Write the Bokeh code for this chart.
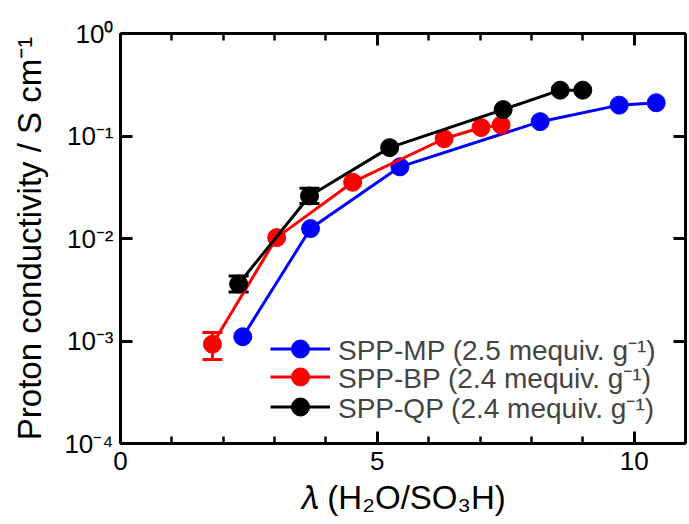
from bokeh.plotting import figure
from bokeh.models import (LinearAxis, LogAxis, SingleIntervalTicker, FixedTicker,
                          CustomJSTickFormatter, Whisker, ColumnDataSource, Legend,
                          LegendItem, Range1d, TeeHead)
from bokeh.embed import file_html
from bokeh.resources import INLINE

# ---- data ----
mp_x = [2.38, 3.70, 5.44, 8.17, 9.71, 10.43]
mp_y = [0.0011, 0.0125, 0.050, 0.138, 0.20, 0.211]
bp_x = [1.79, 3.04, 4.52, 6.30, 7.02, 7.41]
bp_y = [0.00093, 0.0102, 0.0354, 0.094, 0.121, 0.128]
qp_x = [2.30, 3.68, 5.24, 7.45, 8.56, 9.00]
qp_y = [0.0036, 0.026, 0.077, 0.181, 0.28, 0.28]

bp_err_x = [1.79]
bp_err_lo = [0.00066]
bp_err_hi = [0.00121]
qp_err_x = [2.30, 3.68]
qp_err_lo = [0.0030, 0.022]
qp_err_hi = [0.0043, 0.031]

labels = ["SPP-MP (2.5 mequiv. g\u207b\u00b9)",
          "SPP-BP (2.4 mequiv. g\u207b\u00b9)",
          "SPP-QP (2.4 mequiv. g\u207b\u00b9)"]
colors = ["#0000FF", "#FF0000", "#000000"]
y_ticks = [1e-4, 1e-3, 1e-2, 1e-1, 1.0]
x_label = "\U0001D706 (H\u2082O/SO\u2083H)"
y_label = "Proton conductivity / S cm\u207b\u00b9"

FONT = "Liberation Sans"

p = figure(width=689, height=524, x_range=Range1d(0, 11), y_range=Range1d(1e-4, 1.0),
           y_axis_type="log", output_backend="svg", toolbar_location=None,
           min_border_left=120, min_border_right=4, min_border_top=33, min_border_bottom=81)
p.outline_line_color = None
p.grid.visible = False
p.background_fill_color = "white"
p.border_fill_color = "white"

bottom_ax = p.below[0]
left_ax = p.left[0]

top_ax = LinearAxis()
right_ax = LogAxis()
p.add_layout(top_ax, "above")
p.add_layout(right_ax, "right")

yfmt = CustomJSTickFormatter(code="""
const e = Math.round(Math.log10(tick));
const sup = {"-":"\u207b","0":"\u2070","1":"\u00b9","2":"\u00b2","3":"\u00b3","4":"\u2074"};
return "10" + String(e).split("").map(c => sup[c]).join("");
""")
blank = CustomJSTickFormatter(code="return '';")

for ax in [bottom_ax, top_ax]:
    ax.ticker = SingleIntervalTicker(interval=5, num_minor_ticks=5)
for ax in [left_ax, right_ax]:
    ax.ticker = FixedTicker(ticks=y_ticks, minor_ticks=[])

for ax in [bottom_ax, top_ax, left_ax, right_ax]:
    ax.axis_line_width = 3
    ax.axis_line_color = "black"
    ax.major_tick_line_width = 3
    ax.minor_tick_line_width = 2.5
    ax.major_tick_in = 12
    ax.major_tick_out = 0
    ax.minor_tick_in = 7
    ax.minor_tick_out = 0
    ax.major_label_text_font = FONT
    ax.major_label_text_font_size = "26px"
    ax.major_label_text_color = "black"
    ax.axis_label_text_font = FONT
    ax.axis_label_text_font_style = "normal"
    ax.axis_label_text_color = "black"

for ax in [left_ax, right_ax]:
    ax.minor_tick_line_color = None

for ax in [top_ax, right_ax]:
    ax.formatter = blank
    ax.major_label_text_font_size = "0px"
    ax.major_label_standoff = 0

left_ax.formatter = yfmt
left_ax.major_label_standoff = 7
left_ax.axis_label = y_label
left_ax.axis_label_text_font_size = "33px"
left_ax.axis_label_standoff = 13

bottom_ax.major_label_standoff = 8
bottom_ax.axis_label = x_label
bottom_ax.axis_label_text_font_size = "33px"
bottom_ax.axis_label_standoff = 6

# ---- series ----
renderers = []
for xs, ys, c in [(mp_x, mp_y, colors[0]), (bp_x, bp_y, colors[1]), (qp_x, qp_y, colors[2])]:
    src = ColumnDataSource(dict(x=xs, y=ys))
    ln = p.line("x", "y", source=src, line_color=c, line_width=3)
    sc = p.scatter("x", "y", source=src, size=18, fill_color=c, line_color=c)
    renderers.append((ln, sc))

for ex, lo, hi, c in [(bp_err_x, bp_err_lo, bp_err_hi, colors[1]),
                      (qp_err_x, qp_err_lo, qp_err_hi, colors[2])]:
    esrc = ColumnDataSource(dict(x=ex, lo=lo, hi=hi))
    w = Whisker(base="x", lower="lo", upper="hi", source=esrc, line_color=c, line_width=3,
                upper_head=TeeHead(size=20, line_color=c, line_width=3),
                lower_head=TeeHead(size=20, line_color=c, line_width=3))
    p.add_layout(w)

# one legend per entry so rows can sit closer than the marker box height
legend_offsets = [72, 44, 14]
for i in range(3):
    lg = Legend(items=[LegendItem(label=labels[i], renderers=list(renderers[i]))],
                location=(150, legend_offsets[i]), padding=0, spacing=0, margin=0,
                glyph_width=60, glyph_height=45, label_height=29, label_standoff=8,
                label_text_font=FONT, label_text_font_size="28px",
                border_line_color=None, background_fill_alpha=0)
    p.add_layout(lg)

open("out.html", "w").write(file_html(p, INLINE))
